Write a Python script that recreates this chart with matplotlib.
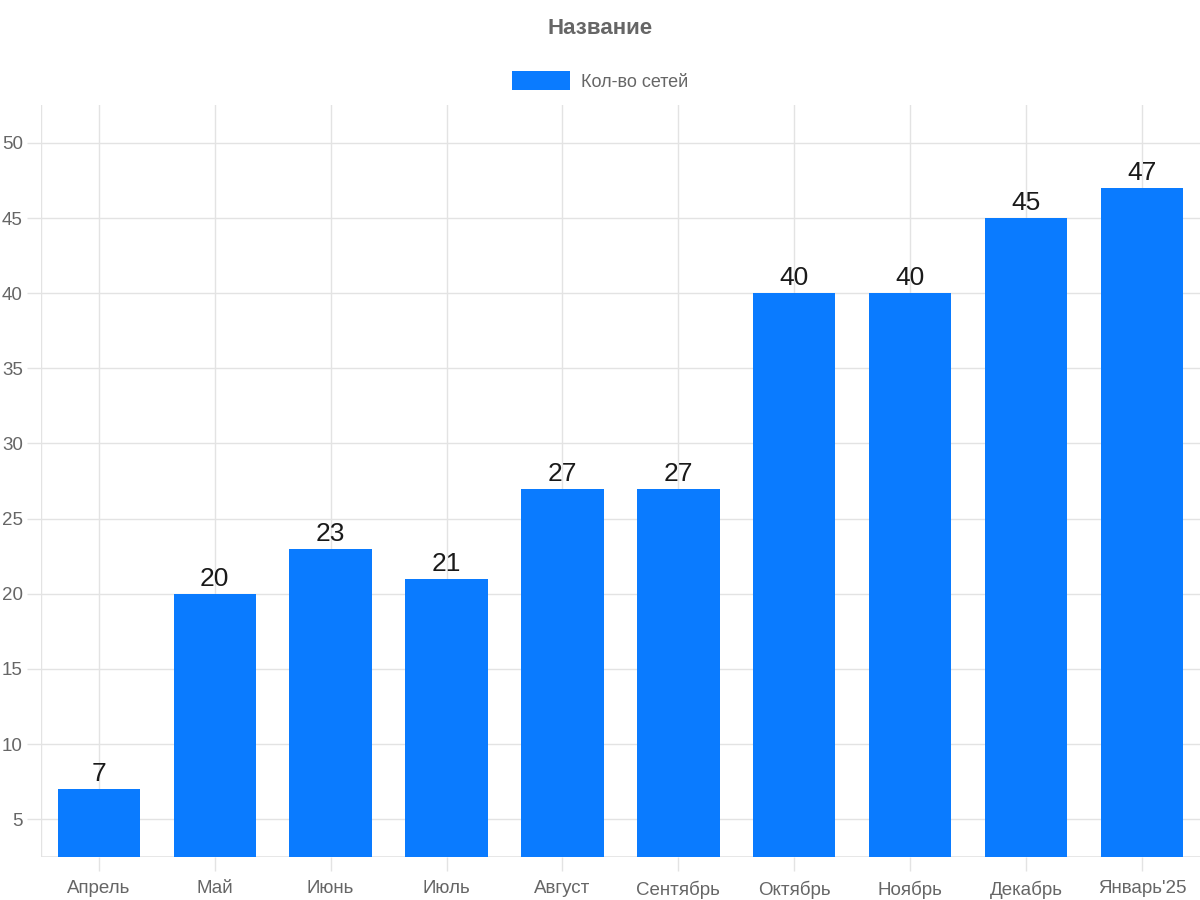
import numpy as np
import matplotlib.pyplot as plt
from matplotlib.patches import Patch

plt.rcParams['font.family'] = ['Liberation Sans', 'DejaVu Sans']

months = ['Апрель', 'Май', 'Июнь', 'Июль', 'Август', 'Сентябрь',
          'Октябрь', 'Ноябрь', 'Декабрь', "Январь'25"]
networks = [7, 20, 23, 21, 27, 27, 40, 40, 45, 47]
yticks = [5, 10, 15, 20, 25, 30, 35, 40, 45, 50]

bar_color = '#0a7bff'
grid_color = '#e3e3e3'
text_gray = '#666666'

fig = plt.figure(figsize=(12, 9), dpi=100)
ax = fig.add_axes([0.034, 0.048, 0.966, 0.835])

x = np.arange(len(months))
ax.bar(x, networks, width=0.71, color=bar_color, bottom=0, zorder=3)

for xi, v in zip(x, networks):
    ax.text(xi, v + 0.2, str(v), ha='center', va='bottom',
            fontsize=19, color='#1a1a1a', zorder=4)

ax.set_xlim(-0.5, len(months) - 0.5)
ax.set_ylim(2.5, 52.5)
ax.set_yticks(yticks)
ax.set_xticks(x)
ax.set_xticklabels(months)

ax.grid(True, color=grid_color, linewidth=1, zorder=0)
ax.axvline(-0.5, color=grid_color, linewidth=1, zorder=0)
for s in ax.spines.values():
    s.set_visible(False)
ax.axhline(2.5, color=grid_color, linewidth=1.2, zorder=1)

ax.tick_params(axis='both', colors=grid_color, labelcolor=text_gray,
               labelsize=13.5, length=10, width=1)
ax.tick_params(axis='x', pad=7)
ax.tick_params(axis='y', pad=3)

fig.text(0.5, 0.968, 'Название', ha='center', va='center',
         fontsize=16, fontweight='bold', color=text_gray)
handle = Patch(facecolor=bar_color, edgecolor='none', label='Кол-во сетей')
fig.legend(handles=[handle], loc='center', bbox_to_anchor=(0.5, 0.91),
           frameon=False, fontsize=13, labelcolor=text_gray,
           handlelength=3.2, handleheight=1.2, handletextpad=0.6)

fig.savefig('out.png', dpi=100)
